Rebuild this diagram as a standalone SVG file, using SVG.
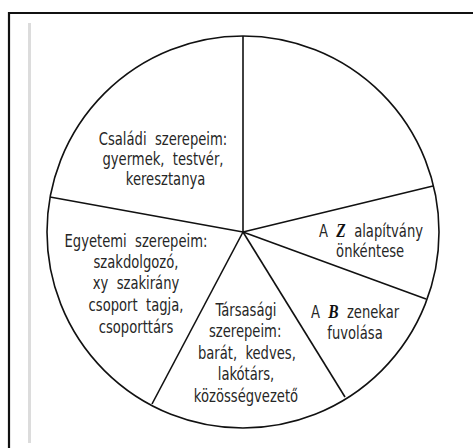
<svg xmlns="http://www.w3.org/2000/svg" width="473" height="448" viewBox="0 0 473 448">
<style>
.t{font-family:"DejaVu Sans Condensed","Liberation Sans Narrow","Liberation Sans",sans-serif;font-size:17px;fill:#262626;text-anchor:middle}
.b{font-family:"Liberation Serif",serif;font-weight:bold;font-style:italic;font-size:18px;fill:#111}
.ln{stroke:#111;stroke-width:1.6;fill:none}
</style>
<rect width="473" height="448" fill="#fff"/>
<g id="frame">
<path d="M9 448 V13 H473" fill="none" stroke="#111" stroke-width="2.2"/>
<line x1="29.5" y1="23" x2="29.5" y2="443" stroke="#dcdcdc" stroke-width="3"/>
</g>
<g id="pie">
<circle class="ln" cx="243" cy="232" r="196"/>
</g>
<g id="connectors">
<line class="ln" x1="243" y1="232" x2="243" y2="36"/>
<line class="ln" x1="243" y1="232" x2="433" y2="186"/>
<line class="ln" x1="243" y1="232" x2="426" y2="299"/>
<line class="ln" x1="243" y1="232" x2="345" y2="397"/>
<line class="ln" x1="243" y1="232" x2="152" y2="404"/>
<line class="ln" x1="243" y1="232" x2="50" y2="197"/>
</g>
<g id="csaladi" transform="translate(163 0) scale(0.86 1)">
<text class="t" x="0" y="145" xml:space="preserve">Családi  szerepeim:</text>
<text class="t" x="0" y="165" xml:space="preserve">gyermek,  testvér,</text>
<text class="t" x="3" y="185">keresztanya</text>
</g>
<g id="egyetemi" transform="translate(136 0) scale(0.86 1)">
<text class="t" x="0" y="247" xml:space="preserve">Egyetemi  szerepeim:</text>
<text class="t" x="0" y="268">szakdolgozó,</text>
<text class="t" x="0" y="289" xml:space="preserve">xy  szakirány</text>
<text class="t" x="0" y="311" xml:space="preserve">csoport  tagja,</text>
<text class="t" x="0" y="333">csoporttárs</text>
</g>
<g id="tarsasagi" transform="translate(246 0) scale(0.86 1)">
<text class="t" x="0" y="316">Társasági</text>
<text class="t" x="-1" y="337">szerepeim:</text>
<text class="t" x="1" y="359" xml:space="preserve">barát,  kedves,</text>
<text class="t" x="0" y="380">lakótárs,</text>
<text class="t" x="0" y="402">közösségvezető</text>
</g>
<g id="alapitvany" transform="translate(371 0) scale(0.86 1)">
<text class="t" x="0" y="237" xml:space="preserve">A  <tspan class="b">Z</tspan>  alapítvány</text>
<text class="t" x="-1" y="257">önkéntese</text>
</g>
<g id="zenekar" transform="translate(355 0) scale(0.86 1)">
<text class="t" x="0" y="318" xml:space="preserve">A  <tspan class="b">B</tspan>  zenekar</text>
<text class="t" x="0" y="339">fuvolása</text>
</g>
</svg>
